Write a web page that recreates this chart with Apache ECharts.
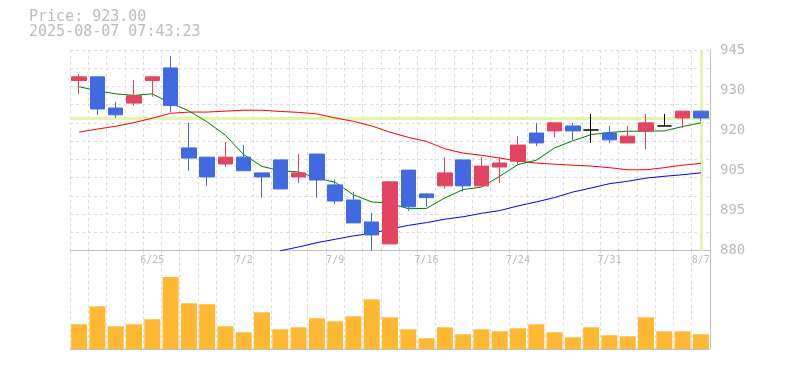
<!DOCTYPE html>
<html>
<head>
<meta charset="utf-8">
<script src="https://cdn.jsdelivr.net/npm/echarts@6/dist/echarts.min.js"></script>
<style>html,body{margin:0;padding:0;background:#fff}#c{width:785px;height:370px}</style>
</head>
<body>
<div id="c"></div>
<script>
const dates = ['6/19','6/20','6/23','6/24','6/25','6/26','6/27','6/30','7/1','7/2','7/3','7/4','7/7','7/8','7/9','7/10','7/11','7/14','7/15','7/16','7/17','7/18','7/22','7/23','7/24','7/25','7/28','7/29','7/30','7/31','8/1','8/4','8/5','8/6','8/7'];
const openP  = [935.1,936.3,926.2,927.8,935.1,939.2,913.3,910.3,908.1,910.3,905.2,909.4,903.9,911.3,901.3,896.4,889.3,882.2,906.1,898.4,901.0,909.4,901.0,907.1,909.0,918.1,918.8,920.4,919.1,918.1,914.9,918.8,920.4,923.0,925.2];
const closeP = [936.3,925.9,924.0,930.2,936.3,927.0,910.0,903.9,910.3,905.9,903.9,900.0,905.2,902.9,896.1,889.0,885.1,902.3,894.2,897.2,905.2,901.0,907.4,908.4,914.2,914.9,921.4,918.8,919.1,915.9,917.1,921.4,920.4,925.2,923.0];
const lowP   = [930.8,924.0,923.0,927.0,929.9,924.8,905.9,901.0,907.2,905.9,897.2,900.0,901.9,897.2,895.2,889.0,880.0,882.2,892.9,894.2,900.1,899.1,901.0,902.0,908.1,913.9,916.8,915.9,914.9,914.9,914.9,912.9,920.4,919.7,922.0];
const highP  = [937.2,936.3,928.2,935.3,936.3,943.1,921.4,910.3,915.2,914.2,905.2,909.4,911.3,911.3,903.1,899.1,892.3,902.3,906.1,898.4,910.3,909.4,910.3,910.3,917.1,921.4,921.4,921.4,924.3,920.4,920.4,924.3,924.3,925.2,925.2];
const ma5  = [933.1,931.8,930.8,930.3,930.8,927.8,925.3,921.7,917.4,911.1,907.3,905.9,905.5,903.5,902.2,898.1,895.8,895.4,893.6,893.7,897.1,899.8,900.6,904.1,907.9,909.3,913.3,915.6,917.6,918.3,918.7,918.7,918.8,920.2,921.4];
const ma25 = [918.4,919.4,920.3,921.5,922.9,924.5,924.9,924.9,925.2,925.5,925.5,925.1,924.8,924.3,923.0,921.9,920.4,918.4,916.7,915.4,913.0,911.6,910.9,910.0,909.0,908.4,908.0,907.7,907.4,906.9,906.2,906.2,906.9,907.7,908.3];
const ma75 = [null,null,null,null,null,null,null,null,null,null,null,880.0,881.2,882.6,883.7,884.8,885.6,887.0,888.2,889.1,890.2,891.0,892.1,893.0,894.5,895.8,897.2,899.0,900.3,901.7,902.5,903.5,904.1,904.6,905.2];
const volume = [24700,42700,22700,24700,29700,72000,45700,44700,22700,16700,36700,19700,21700,30700,27700,32700,49700,31700,19700,10700,21700,14700,19700,17700,20700,24700,16700,11700,21700,13700,12700,31700,17700,17700,14700];
const yTickLabels = ['880','895','905','920','930','945'];
const lastPrice = 923;
const titleLines = ['Price: 923.00', '2025-08-07 07:43:23'];

const candleData = dates.map((d, i) => [openP[i], closeP[i], lowP[i], highP[i]]);
const FONT = 'DejaVu Sans Mono';
const gridLine = {show: true, lineStyle: {color: '#dcdcdc', type: [3, 3], width: 1}};
const axisLineSolid = {show: true, lineStyle: {color: '#c0c0c0', width: 1}};

const chart = echarts.init(document.getElementById('c'), null, {renderer: 'canvas'});
chart.setOption({
  animation: false,
  backgroundColor: '#fff',
  title: {
    text: titleLines.join('\n'), left: 29, top: 10, padding: 0,
    textStyle: {fontFamily: FONT, fontSize: 15, lineHeight: 15, fontWeight: 'normal', color: '#bcbcbc'}
  },
  grid: [
    {left: 70, right: 75, top: 50, height: 200.7},
    {left: 70, right: 75, top: 250.7, height: 98.3}
  ],
  xAxis: [
    {type: 'category', gridIndex: 0, data: dates, boundaryGap: true,
     axisLine: axisLineSolid, axisTick: {show: false},
     axisLabel: {interval: (i) => i % 5 === 4, margin: 5, fontFamily: FONT, fontSize: 10, color: '#bbbbbb'},
     splitLine: Object.assign({interval: 0}, gridLine)},
    {type: 'category', gridIndex: 1, data: dates, boundaryGap: true,
     axisLine: axisLineSolid, axisTick: {show: false}, axisLabel: {show: false},
     splitLine: Object.assign({interval: 0}, gridLine)}
  ],
  yAxis: [
    {type: 'value', gridIndex: 0, min: 880, max: 945, show: false, scale: true},
    {type: 'value', gridIndex: 0, min: 0, max: yTickLabels.length - 1, interval: 1, position: 'right',
     axisLine: axisLineSolid, axisTick: {show: false}, splitLine: {show: false},
     axisLabel: {margin: 10, fontFamily: FONT, fontSize: 14, color: '#bbbbbb', padding: [7, 0, 0, 0],
       formatter: (v) => yTickLabels[Math.round(v)]}},
    {type: 'value', gridIndex: 0, min: 0, max: 11, interval: 1, position: 'left',
     axisLine: {show: false}, axisTick: {show: false}, axisLabel: {show: false}, splitLine: gridLine},
    {type: 'value', gridIndex: 1, min: 0, max: 98300, position: 'right',
     axisLine: axisLineSolid, axisTick: {show: false}, axisLabel: {show: false}, splitLine: {show: false}}
  ],
  series: [
    {type: 'line', xAxisIndex: 0, yAxisIndex: 0, data: [], z: 1, silent: true,
     markLine: {silent: true, z: 1, symbol: ['none', 'none'], label: {show: false},
       lineStyle: {color: '#e3f5a8', width: 3, type: 'solid'},
       data: [{yAxis: lastPrice}, {xAxis: dates[dates.length - 1]}]}},
    {type: 'line', xAxisIndex: 0, yAxisIndex: 0, data: ma25, symbol: 'none', z: 2,
     lineStyle: {color: '#ff0000', width: 1}},
    {type: 'line', xAxisIndex: 0, yAxisIndex: 0, data: ma75, symbol: 'none', z: 2,
     lineStyle: {color: '#0000ff', width: 1}},
    {type: 'line', xAxisIndex: 0, yAxisIndex: 0, data: ma5, symbol: 'none', z: 2,
     lineStyle: {color: '#008000', width: 1}},
    {type: 'candlestick', xAxisIndex: 0, yAxisIndex: 0, data: candleData, z: 3, barWidth: 15,
     itemStyle: {color: '#e3445f', color0: '#4169e1', borderColor: '#e3445f', borderColor0: '#4169e1',
       borderColorDoji: '#000000', borderWidth: 1}},
    {type: 'bar', xAxisIndex: 1, yAxisIndex: 3, data: volume, barWidth: 16,
     itemStyle: {color: '#ffb833'}}
  ]
});
</script>
</body>
</html>
